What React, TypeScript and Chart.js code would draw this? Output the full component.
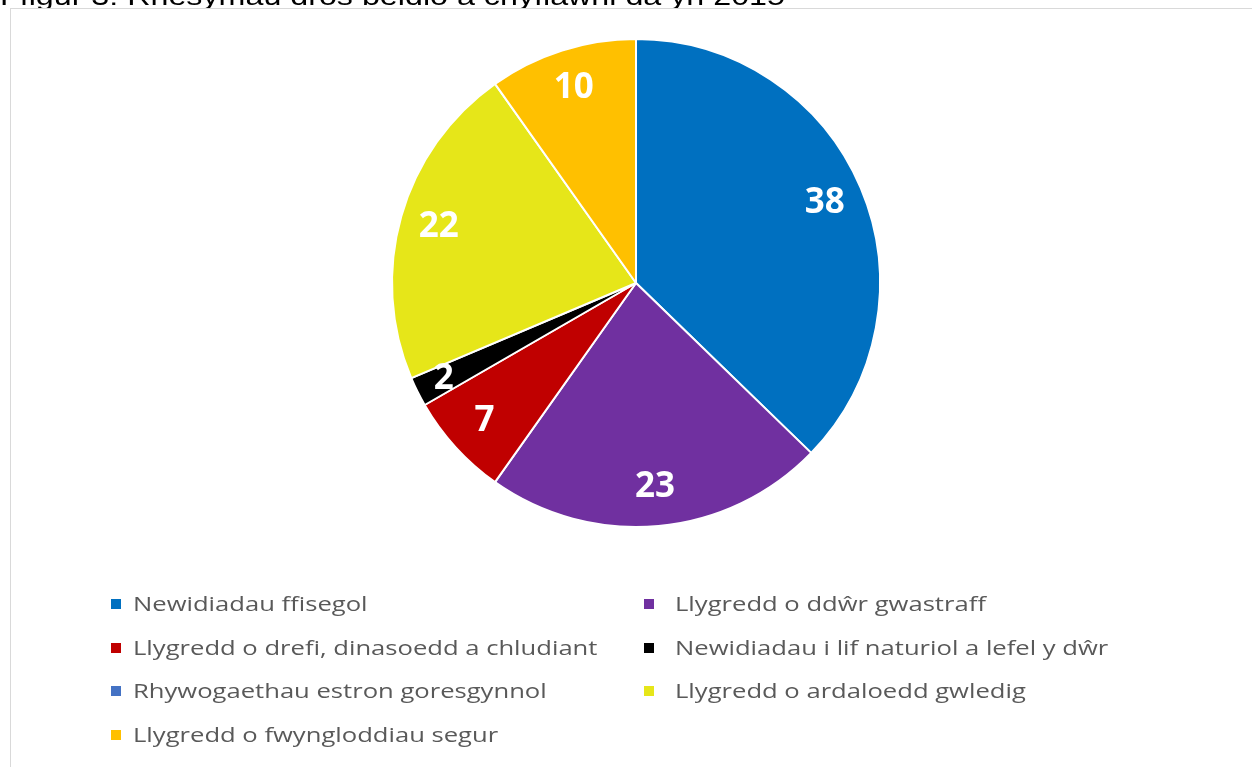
import React, { useEffect, useRef } from "react";
import { Chart, registerables } from "chart.js";

Chart.register(...registerables);

const title = "Ffigur 3: Rhesymau dros beidio â chyflawni da yn 2015";
const categories = [
  "Newidiadau ffisegol",
  "Llygredd o ddŵr gwastraff",
  "Llygredd o drefi, dinasoedd a chludiant",
  "Newidiadau i lif naturiol a lefel y dŵr",
  "Rhywogaethau estron goresgynnol",
  "Llygredd o ardaloedd gwledig",
  "Llygredd o fwyngloddiau segur",
];
const values = [38, 23, 7, 2, 0, 22, 10];
const colors = ["#0070C0", "#7030A0", "#C00000", "#000000", "#4472C4", "#E6E619", "#FFC000"];

const labelPlugin = {
  id: "sliceLabels",
  afterDatasetsDraw(chart: any) {
    const ctx = chart.ctx;
    const meta = chart.getDatasetMeta(0);
    ctx.save();
    ctx.fillStyle = "#ffffff";
    ctx.font = "bold 35px 'Open Sans'";
    ctx.textAlign = "center";
    ctx.textBaseline = "middle";
    meta.data.forEach((arc: any, i: number) => {
      const v = values[i];
      if (!v) return;
      const p = arc.getProps(["x", "y", "startAngle", "endAngle", "outerRadius"], true);
      const mid = (p.startAngle + p.endAngle) / 2;
      const f = v < 5 ? 0.88 : 0.84;
      const r = p.outerRadius * f;
      ctx.fillText(String(v), p.x + Math.cos(mid) * r, p.y + Math.sin(mid) * r);
    });
    ctx.restore();
  },
};

export default function App() {
  const ref = useRef<HTMLCanvasElement>(null);
  useEffect(() => {
    if (!ref.current) return;
    const chart = new Chart(ref.current, {
      type: "pie",
      data: {
        labels: categories,
        datasets: [
          {
            data: values,
            backgroundColor: colors,
            borderColor: "#ffffff",
            borderWidth: 2,
          },
        ],
      },
      options: {
        animation: false,
        responsive: false,
        maintainAspectRatio: false,
        layout: { padding: { left: 10, right: 0, top: 29, bottom: 41 } },
        plugins: { legend: { display: false }, tooltip: { enabled: false } },
      },
      plugins: [labelPlugin],
    });
    return () => chart.destroy();
  }, []);

  const colX = [111, 644];
  const textX = [133, 675];
  return (
    <div>
      <div
        style={{
          position: "fixed",
          left: 0,
          top: -17,
          font: "26px 'Liberation Sans', Arial, sans-serif",
          lineHeight: "26px",
          color: "#000",
          whiteSpace: "nowrap",
          transform: "scaleX(1.24)",
          transformOrigin: "left center",
        }}
      >
        {title}
      </div>
      <div
        style={{
          position: "fixed",
          left: 10,
          top: 8,
          width: 1260,
          height: 780,
          border: "1px solid #d9d9d9",
          background: "#fff",
        }}
      >
        <canvas ref={ref} width={1240} height={560} style={{ position: "absolute", left: 0, top: 0, width: 1240, height: 560 }} />
      </div>
      {categories.map((c, i) => {
        const col = i % 2;
        const row = Math.floor(i / 2);
        const cy = 604 + row * 43.7;
        return (
          <React.Fragment key={c}>
            <div
              style={{
                position: "fixed",
                left: colX[col],
                top: cy - 5,
                width: 10,
                height: 10,
                background: colors[i],
              }}
            />
            <div
              style={{
                position: "fixed",
                left: textX[col],
                top: cy - 14,
                height: 28,
                lineHeight: "28px",
                font: "20px 'Open Sans', sans-serif",
                color: "#595959",
                whiteSpace: "nowrap",
                transform: "scaleX(1.28)",
                transformOrigin: "left center",
              }}
            >
              {c}
            </div>
          </React.Fragment>
        );
      })}
    </div>
  );
}
